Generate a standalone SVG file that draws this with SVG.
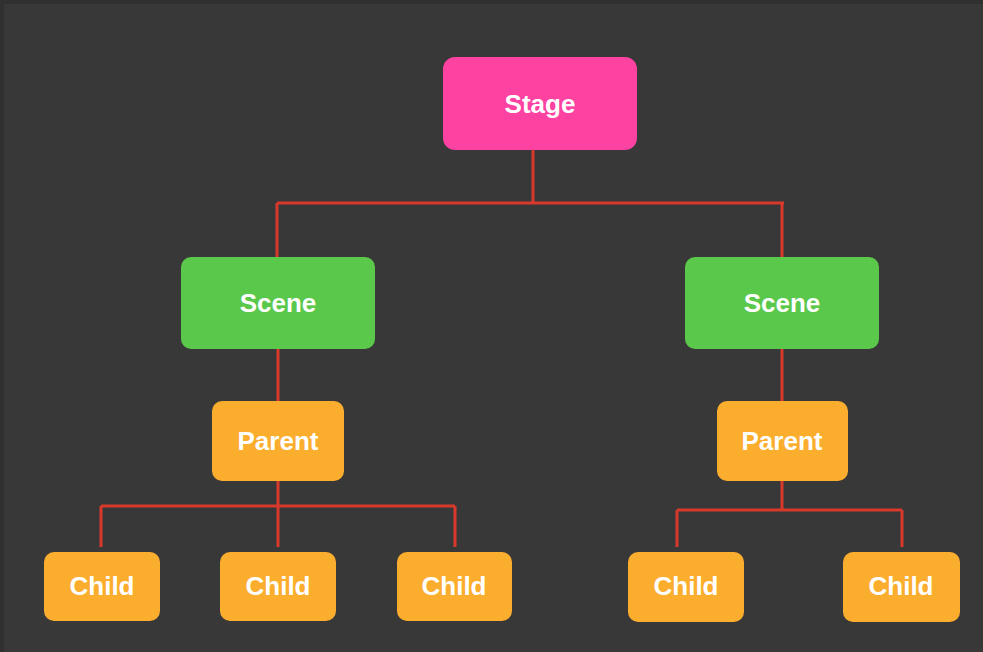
<svg xmlns="http://www.w3.org/2000/svg" width="983" height="652" viewBox="0 0 983 652">
<style>
.lbl{font-family:"Liberation Sans",Arial,sans-serif;font-weight:bold;font-size:26px;fill:#ffffff;text-anchor:middle}
.stage{fill:#fd42a1}
.scene{fill:#5ac84a}
.orange{fill:#fbad2d}
.wire{fill:none;stroke:#d8392b;stroke-width:3}
</style>
<rect x="0" y="0" width="983" height="652" fill="#383838"/>
<rect x="0" y="0" width="983" height="4" fill="#303030"/>
<rect x="0" y="0" width="4" height="652" fill="#303030"/>
<g id="connectors">
<path class="wire" d="M533 140 V203 M277 203 H784 M277 203 V262 M782 203 V262"/>
<path class="wire" d="M278 345 V406"/>
<path class="wire" d="M782 345 V406"/>
<path class="wire" d="M278 472 V506 M101 506 H455 M101 506 V547 M278 506 V547 M455 506 V547"/>
<path class="wire" d="M782 472 V510 M677 510 H902 M677 510 V547 M902 510 V547"/>
</g>
<g id="stage"><rect class="stage" x="443" y="57" width="194" height="93" rx="12"/><text class="lbl" x="540" y="113">Stage</text></g>
<g id="scene-left"><rect class="scene" x="181" y="257" width="194" height="92" rx="10"/><text class="lbl" x="278" y="312">Scene</text></g>
<g id="scene-right"><rect class="scene" x="685" y="257" width="194" height="92" rx="10"/><text class="lbl" x="782" y="312">Scene</text></g>
<g id="parent-left"><rect class="orange" x="212" y="401" width="132" height="80" rx="10"/><text class="lbl" x="278" y="450">Parent</text></g>
<g id="parent-right"><rect class="orange" x="717" y="401" width="131" height="80" rx="10"/><text class="lbl" x="782" y="450">Parent</text></g>
<g id="child-1"><rect class="orange" x="44" y="552" width="116" height="69" rx="10"/><text class="lbl" x="102" y="595">Child</text></g>
<g id="child-2"><rect class="orange" x="220" y="552" width="116" height="69" rx="10"/><text class="lbl" x="278" y="595">Child</text></g>
<g id="child-3"><rect class="orange" x="397" y="552" width="115" height="69" rx="10"/><text class="lbl" x="454" y="595">Child</text></g>
<g id="child-4"><rect class="orange" x="628" y="552" width="116" height="70" rx="10"/><text class="lbl" x="686" y="595">Child</text></g>
<g id="child-5"><rect class="orange" x="843" y="552" width="117" height="70" rx="10"/><text class="lbl" x="901" y="595">Child</text></g>
</svg>
